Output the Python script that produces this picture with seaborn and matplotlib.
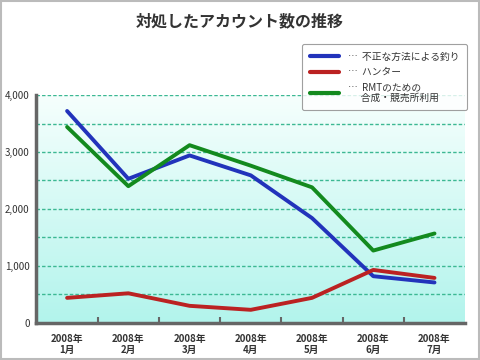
import numpy as np
import pandas as pd
import seaborn as sns
import matplotlib.pyplot as plt
from matplotlib.lines import Line2D
from matplotlib.patches import Rectangle

months = ["2008年\n1月", "2008年\n2月", "2008年\n3月", "2008年\n4月",
          "2008年\n5月", "2008年\n6月", "2008年\n7月"]
series_names = ["不正な方法による釣り", "ハンター", "RMTのための\n合成・競売所利用"]
fishing = [3720, 2530, 2940, 2590, 1840, 820, 710]
hunter = [440, 520, 300, 230, 440, 930, 790]
rmt = [3440, 2400, 3120, 2760, 2380, 1270, 1570]
colors = ["#2233bb", "#bb2222", "#138a1e"]

sns.set_theme(style="white")
plt.rcParams['font.family'] = ['Noto Sans CJK JP', 'DejaVu Sans']

df = pd.DataFrame({
    "x": list(range(len(months))) * 3,
    "value": fishing + hunter + rmt,
    "series": [s for s in series_names for _ in months],
})

fig = plt.figure(figsize=(4.8, 3.6), dpi=100)
fig.patch.set_facecolor("white")
fig.add_artist(Rectangle((0.002, 0.003), 0.995, 0.994, transform=fig.transFigure,
                         fill=False, edgecolor="#bbbbbb", linewidth=1.5))
ax = fig.add_axes([0.076, 0.103, 0.893, 0.633])

# gradient background
grad = np.linspace(0, 1, 256).reshape(-1, 1)
cmap = sns.blend_palette(["#b2f4ec", "#f6fffd"], as_cmap=True)
ax.imshow(grad, extent=[0, 1, 0, 1], transform=ax.transAxes, cmap=cmap,
          aspect="auto", origin="lower", zorder=0)

for yv in np.arange(500, 4001, 500):
    ax.axhline(yv, color="#3cb893", linestyle=(0, (2.5, 1.5)), linewidth=1.0, zorder=1)

sns.lineplot(data=df, x="x", y="value", hue="series", palette=colors,
             hue_order=series_names, linewidth=2.8, sort=False, legend=False,
             ax=ax, zorder=3)

ax.set_xlim(-0.5, len(months) - 0.5)
ax.set_ylim(0, 4000)
ax.set_xlabel("")
ax.set_ylabel("")
ax.set_xticks(range(len(months)))
ax.set_xticklabels(months, fontsize=7, color="#333333", fontweight="bold", linespacing=1.1)
ax.set_xticks(np.arange(0.5, len(months) - 1, 1), minor=True)
ax.tick_params(axis="x", which="major", length=0, pad=8)
ax.tick_params(axis="x", which="minor", direction="in", length=4, width=1.5,
               color="#666666", bottom=True)
ax.set_yticks([0, 1000, 2000, 3000, 4000])
ax.set_yticklabels(["0", "1,000", "2,000", "3,000", "4,000"], fontsize=7, color="#333333")
ax.tick_params(axis="y", length=0, pad=5)
for side in ["top", "right"]:
    ax.spines[side].set_visible(False)
for side in ["left", "bottom"]:
    ax.spines[side].set_color("#666666")
    ax.spines[side].set_linewidth(2.5)

fig.text(0.5, 0.942, "対処したアカウント数の推移", ha="center", va="center",
         fontsize=11.5, color="#333333", fontweight="bold")

handles = [Line2D([0], [0], color=c, linewidth=3) for c in colors]
labels = ["…  " + s.replace("\n", "\n      ") for s in series_names]
leg = fig.legend(handles, labels, loc="upper right", bbox_to_anchor=(0.973, 0.878),
                 fontsize=7, frameon=True, fancybox=True, handlelength=3.0,
                 labelspacing=0.55, borderpad=0.8, handletextpad=0.9,
                 borderaxespad=0)
leg.get_frame().set_edgecolor("#888888")
leg.get_frame().set_linewidth(0.8)
for t in leg.get_texts():
    t.set_color("#333333")
    t.set_linespacing(1.0)

fig.savefig("out.png", dpi=100)
